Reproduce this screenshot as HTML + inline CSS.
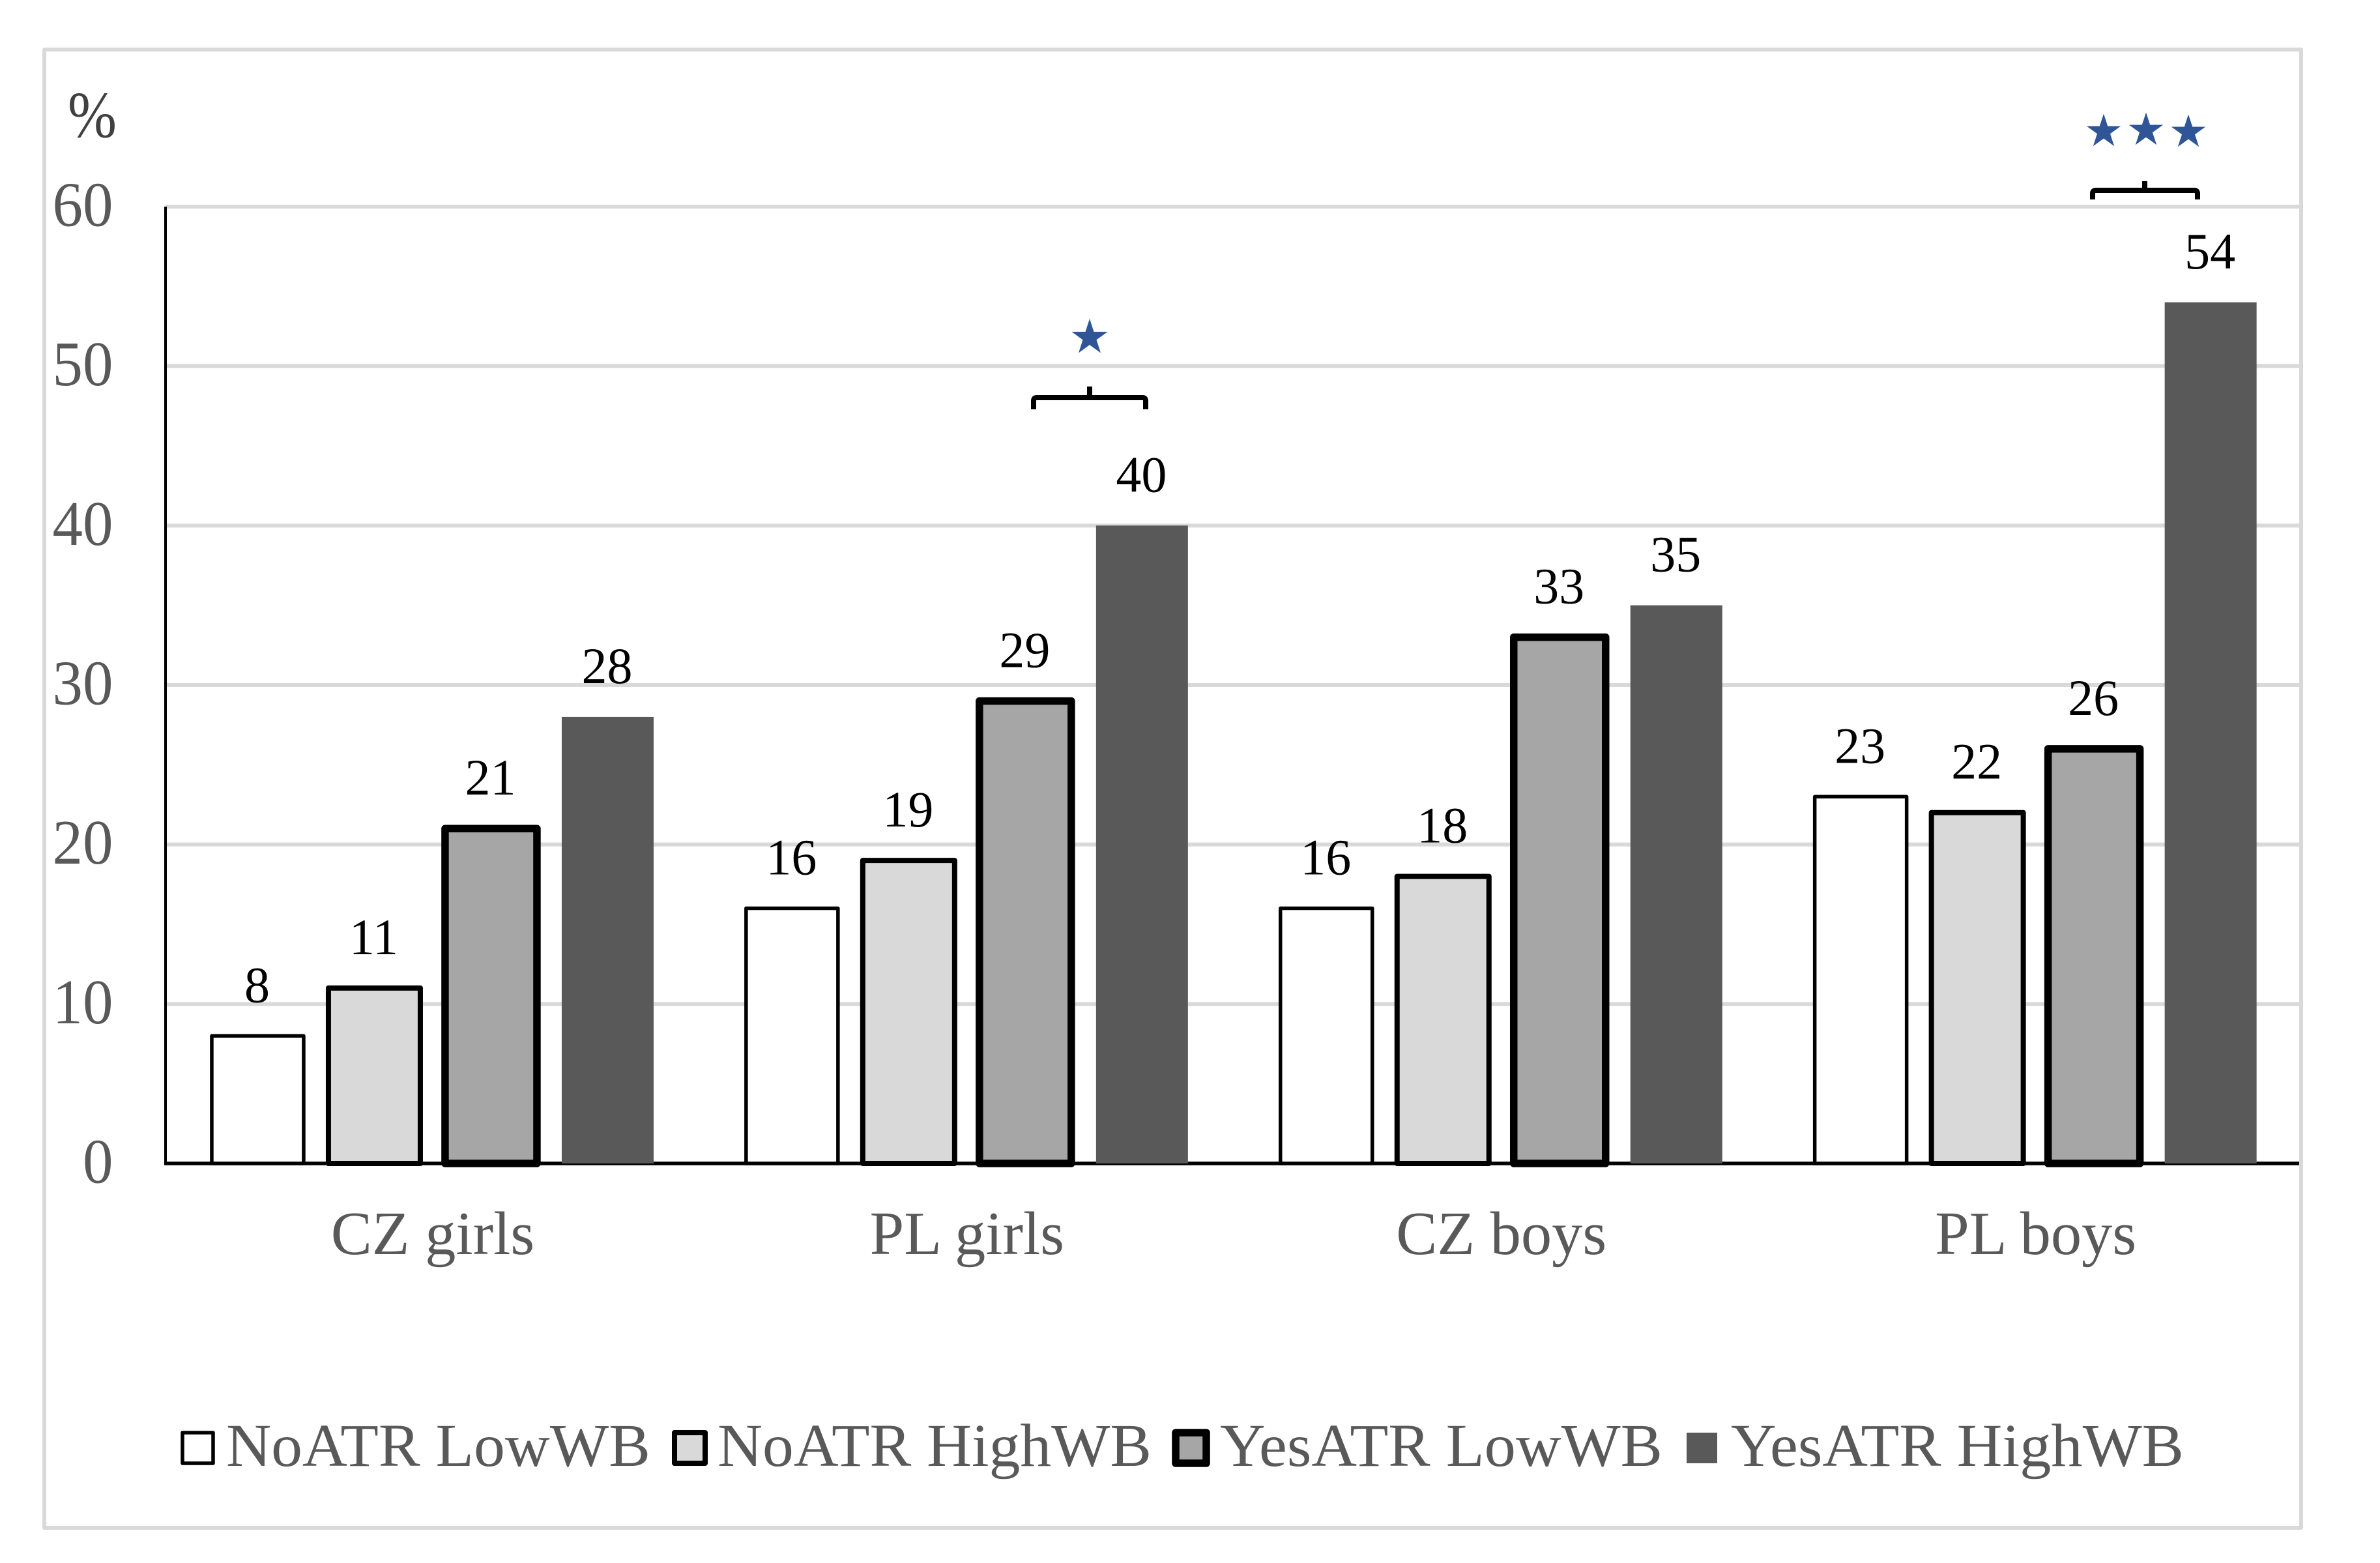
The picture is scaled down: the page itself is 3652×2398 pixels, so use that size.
<!DOCTYPE html>
<html lang="en">
<head>
<meta charset="utf-8">
<title>ATR and wellbeing by group</title>
<style>
html,body{margin:0;padding:0;background:#fff}
svg{display:block}
text{font-family:"Liberation Serif","Times New Roman",serif}
</style>
</head>
<body>
<svg id="chart" xmlns="http://www.w3.org/2000/svg" width="3652" height="2398" viewBox="0 0 3652 2398">
  <rect x="0" y="0" width="3652" height="2398" fill="#fff"/>
  <rect x="68" y="76" width="3463" height="2268" fill="#fff" stroke="#d9d9d9" stroke-width="6" stroke-linejoin="round"/>
  <text transform="translate(104,210) scale(1,1.12)" font-size="90" fill="#404040">%</text>
  <g id="grid"></g>
  <g id="axes"></g>
  <g id="bars"></g>
  <g id="labels"></g>
  <g id="annotations">
    <path d="M1586,628 V615 Q1586,610 1591,610 H1753 Q1758,610 1758,615 V628 M1672,593 V610" fill="none" stroke="#000" stroke-width="8"/>
    <path d="M3211,306 V297 Q3211,292 3216,292 H3367 Q3372,292 3372,297 V306 M3291,278 V292" fill="none" stroke="#000" stroke-width="8"/>
  </g>
  <g id="legend"></g>
</svg>
<script>
// Chart data
const categories = ["CZ girls", "PL girls", "CZ boys", "PL boys"];
const seriesNames = ["NoATR LowWB", "NoATR HighWB", "YesATR LowWB", "YesATR HighWB"];
const noAtrLowWb = [8, 16, 16, 23];
const noAtrHighWb = [11, 19, 18, 22];
const yesAtrLowWb = [21, 29, 33, 26];
const yesAtrHighWb = [28, 40, 35, 54];
const yTicks = [0, 10, 20, 30, 40, 50, 60];

const seriesValues = [noAtrLowWb, noAtrHighWb, yesAtrLowWb, yesAtrHighWb];
const seriesFill = ["#ffffff", "#d9d9d9", "#a6a6a6", "#595959"];
const seriesStroke = ["#000", "#000", "#000", "none"];
const seriesStrokeWidth = [5.5, 8, 11.5, 0];

const NS = "http://www.w3.org/2000/svg";
const plotLeft = 254, plotRight = 3531, plotTop = 317, plotBottom = 1785;
const yMax = 60;
const barPitch = 179, fullBarWidth = 141, bandWidth = 819.9;

function yScale(v) {
  return plotBottom - (v / yMax) * (plotBottom - plotTop);
}
function bandCenter(i) {
  return plotLeft + bandWidth * (i + 0.5);
}
function barCenter(i, s) {
  return bandCenter(i) + (s - (seriesValues.length - 1) / 2) * barPitch;
}
function slug(t) {
  return t.toLowerCase().replace(/\s+/g, "-");
}
function make(tag, parent) {
  const el = document.createElementNS(NS, tag);
  parent.appendChild(el);
  return el;
}

const gridG = document.getElementById("grid");
const axesG = document.getElementById("axes");
const barsG = document.getElementById("bars");
const labelsG = document.getElementById("labels");
const legendG = document.getElementById("legend");
const annG = document.getElementById("annotations");

// Gridlines and y tick labels
yTicks.forEach(function (t) {
  if (t > 0) {
    const line = make("line", gridG);
    
    
    line.setAttribute("x1", plotLeft);
    line.setAttribute("x2", plotRight);
    line.setAttribute("y1", yScale(t));
    line.setAttribute("y2", yScale(t));
    line.setAttribute("stroke", "#d9d9d9");
    line.setAttribute("stroke-width", 6);
  }
  const label = make("text", axesG);
  
  
  label.setAttribute("transform", "translate(173.5," + (yScale(t) + 29.5) + ") scale(1,1.05)");
  label.setAttribute("text-anchor", "end");
  label.setAttribute("font-size", 93);
  label.setAttribute("fill", "#595959");
  label.textContent = t;
});

// Axes
const yAxis = make("line", axesG);


yAxis.setAttribute("x1", plotLeft);
yAxis.setAttribute("x2", plotLeft);
yAxis.setAttribute("y1", plotTop);
yAxis.setAttribute("y2", plotBottom);
yAxis.setAttribute("stroke", "#000");
yAxis.setAttribute("stroke-width", 4);

const xAxis = make("line", axesG);


xAxis.setAttribute("x1", plotLeft - 2);
xAxis.setAttribute("x2", plotRight - 3);
xAxis.setAttribute("y1", plotBottom);
xAxis.setAttribute("y2", plotBottom);
xAxis.setAttribute("stroke", "#000");
xAxis.setAttribute("stroke-width", 5.5);

// Category labels
categories.forEach(function (c, i) {
  const label = make("text", axesG);
  
  
  label.setAttribute("x", bandCenter(i));
  label.setAttribute("y", 1924);
  label.setAttribute("text-anchor", "middle");
  label.setAttribute("font-size", 94.5);
  label.setAttribute("fill", "#595959");
  label.textContent = c;
});

// Bars and value labels
seriesValues.forEach(function (values, s) {
  values.forEach(function (v, i) {
    const sw = seriesStrokeWidth[s];
    const w = fullBarWidth;
    const cx = barCenter(i, s);
    const bar = make("rect", barsG);
    
    
    bar.setAttribute("x", cx - w / 2);
    bar.setAttribute("y", yScale(v));
    bar.setAttribute("width", w);
    bar.setAttribute("height", yScale(0) - yScale(v));
    bar.setAttribute("fill", seriesFill[s]);
    bar.setAttribute("stroke", seriesStroke[s]);
    bar.setAttribute("stroke-width", sw);
    bar.setAttribute("stroke-linejoin", "round");

    const label = make("text", labelsG);
    
    
    label.setAttribute("x", cx - 1);
    label.setAttribute("y", yScale(v) - 52);
    label.setAttribute("text-anchor", "middle");
    label.setAttribute("font-size", 78);
    label.setAttribute("fill", "#000");
    label.textContent = v;
  });
});

// Legend
const legendTextStart = [347, 1101, 1872, 2656];
const legendTextLength = [651, 666, 679, 695];
const legendSwatchStart = [280, 1035, 1804, 2588];
seriesNames.forEach(function (name, s) {
  const sw = seriesStrokeWidth[s];
  const swatch = make("rect", legendG);
  
  
  swatch.setAttribute("x", legendSwatchStart[s]);
  swatch.setAttribute("y", 2198);
  swatch.setAttribute("width", 47);
  swatch.setAttribute("height", 47);
  swatch.setAttribute("fill", seriesFill[s]);
  swatch.setAttribute("stroke", seriesStroke[s]);
  swatch.setAttribute("stroke-width", sw);
  swatch.setAttribute("stroke-linejoin", "round");

  const label = make("text", legendG);
  
  
  label.setAttribute("x", legendTextStart[s]);
  label.setAttribute("y", 2249);
  label.setAttribute("font-size", 93);
  label.setAttribute("fill", "#595959");
  label.setAttribute("textLength", legendTextLength[s]);
  label.setAttribute("lengthAdjust", "spacingAndGlyphs");
  label.textContent = name;
});

// Significance stars
function starPoints(cx, cy, r) {
  const pts = [];
  for (let k = 0; k < 10; k++) {
    const rad = k % 2 === 0 ? r : r * 0.382;
    const a = -Math.PI / 2 + k * Math.PI / 5;
    pts.push((cx + rad * Math.cos(a)).toFixed(1) + "," + (cy + rad * Math.sin(a)).toFixed(1));
  }
  return pts.join(" ");
}
function addStar(name, cx, cy, r) {
  const star = make("polygon", annG);
  
  
  star.setAttribute("points", starPoints(cx, cy, r));
  star.setAttribute("fill", "#2f5597");
}
addStar("significance-star-pl-girls", 1672, 518, 29);
addStar("significance-star-pl-boys-1", 3228, 202, 27.5);
addStar("significance-star-pl-boys-2", 3293, 200, 27.5);
addStar("significance-star-pl-boys-3", 3358, 203, 27.5);
</script>
</body>
</html>
